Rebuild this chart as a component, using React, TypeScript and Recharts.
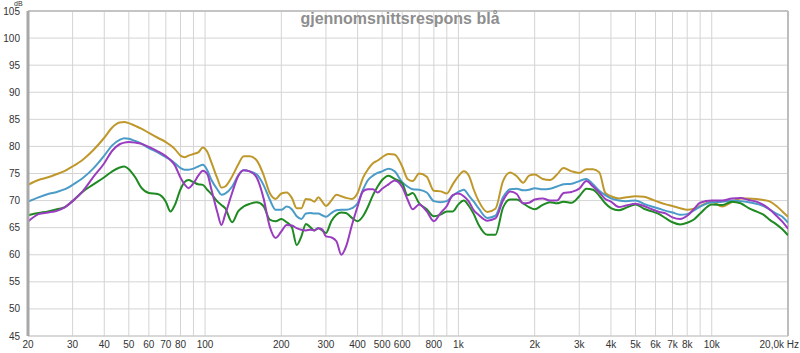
import React from "react";
import {
  LineChart,
  Line,
  XAxis,
  YAxis,
  CartesianGrid,
  ReferenceLine,
} from "recharts";

// frequency points (Hz) shared by all four curves
const freqs = [
  20, 22, 24, 26, 28, 30, 33, 36, 40, 43,
  46, 48, 50, 53, 56, 60, 65, 70, 73, 76,
  80, 83, 86, 90, 94, 98, 102, 106, 112, 116,
  120, 128, 135, 142, 150, 160, 170, 180, 190, 200,
  210, 220, 230, 240, 250, 260, 270, 280, 290, 300,
  315, 330, 345, 360, 380, 400, 420, 440, 460, 480,
  500, 530, 560, 600, 630, 660, 700, 750, 800, 850,
  900, 950, 1000, 1050, 1100, 1150, 1200, 1300, 1400, 1500,
  1600, 1700, 1800, 1900, 2000, 2150, 2300, 2450, 2600, 2800,
  3000, 3200, 3400, 3600, 3800, 4000, 4300, 4600, 5000, 5400,
  5800, 6200, 6600, 7000, 7500, 8000, 8500, 9000, 10000, 11000,
  12000, 13000, 14000, 15000, 16000, 17000, 18000, 19000, 20000,
];

const gold = [
  72.9, 73.8, 74.3, 74.9, 75.5, 76.3, 77.6, 79.2, 81.6, 83.5,
  84.4, 84.5, 84.3, 83.8, 83.3, 82.5, 81.6, 80.8, 80.2, 79.5,
  78.3, 78.0, 78.3, 78.6, 78.9, 79.8, 79.0, 77.0, 74.0, 72.4,
  72.6, 74.5, 76.6, 78.2, 78.2, 77.4, 74.8, 71.4, 70.3, 71.3,
  71.5, 70.5, 68.6, 68.6, 70.3, 70.2, 69.8, 70.6, 69.8, 69.0,
  70.0, 71.1, 70.8, 70.5, 70.3, 71.4, 74.2, 75.8, 76.9, 77.4,
  78.0, 78.6, 78.5, 76.3, 74.0, 73.6, 75.0, 74.4, 71.8, 71.7,
  71.3, 73.0, 74.5, 75.4, 74.6, 72.0, 70.0, 67.9, 68.5, 73.6,
  75.2, 74.5, 73.3, 74.6, 74.8, 74.0, 73.8, 74.8, 76.0, 75.4,
  75.1, 75.8, 75.8, 75.2, 71.4, 70.8, 70.4, 70.6, 70.8, 70.7,
  70.2, 69.7, 69.3, 69.0, 68.6, 68.3, 68.5, 69.0, 69.8, 68.9,
  69.7, 70.4, 70.4, 70.3, 70.1, 69.8, 69.0, 68.0, 67.0,
];

const blue = [
  69.8, 70.6, 71.2, 71.6, 72.1, 72.9, 74.2, 75.8, 78.3, 80.2,
  81.2, 81.5, 81.4, 81.0, 80.5, 79.7, 78.9, 78.0, 77.5, 76.9,
  76.0, 75.7, 75.7, 75.9, 76.3, 76.6, 75.6, 73.8, 72.0, 71.1,
  71.3, 72.6, 74.6, 75.6, 75.4, 74.8, 72.9, 70.2, 68.3, 68.3,
  68.9, 68.4, 67.1, 66.6, 67.6, 67.7, 67.6, 67.6, 67.3, 67.0,
  67.7, 68.2, 68.3, 68.3, 68.6, 69.5, 72.0, 73.8, 74.6, 75.1,
  75.4, 75.9, 75.4, 73.4, 72.6, 72.1, 72.0, 71.5, 69.9, 69.7,
  69.9, 70.9, 71.6, 72.0, 70.9, 69.8, 68.6, 66.8, 67.2, 70.6,
  72.1, 72.2, 71.9, 72.0, 72.3, 72.1, 72.2, 72.6, 73.0, 73.1,
  73.6, 74.0, 73.0, 71.8, 71.0, 70.4, 70.0, 69.9, 70.0, 69.4,
  68.9, 68.5, 68.1, 67.8, 67.4, 67.5, 68.2, 68.9, 69.7, 69.8,
  70.0, 69.9, 69.7, 69.4, 69.0, 68.3, 67.6, 67.0, 65.9,
];

const purple = [
  66.1, 67.5, 67.8, 68.1, 68.8, 69.9, 71.8, 74.2, 76.9, 79.2,
  80.4, 80.7, 80.8, 80.7, 80.5, 79.9, 79.1, 78.2, 77.5, 76.5,
  74.2, 73.0, 72.3, 73.2, 74.6, 75.5, 74.9, 72.0, 67.7, 65.5,
  67.4, 71.5, 74.5, 75.6, 75.4, 74.2, 70.5, 65.2, 63.1, 64.3,
  65.5, 65.4, 64.9, 64.6, 64.5, 64.6, 64.5, 64.9, 64.7, 63.4,
  63.2, 62.5, 60.0, 61.5, 65.5, 68.9, 71.7, 72.1, 72.1, 71.5,
  72.2, 73.0, 73.7, 72.5, 70.2, 68.4, 69.3, 68.0, 66.2, 67.7,
  69.0, 71.0, 71.3, 70.8, 69.8, 68.2, 67.4, 66.3, 66.7, 70.0,
  71.7, 71.2, 69.5, 69.6, 70.2, 70.4, 70.0, 70.0, 71.4, 71.6,
  72.2, 73.6, 72.6, 71.5, 70.3, 69.8, 68.8, 69.1, 69.4, 69.0,
  68.4, 67.9, 67.6, 66.9, 66.6, 67.2, 68.4, 69.6, 70.0, 70.0,
  70.4, 70.5, 70.1, 69.8, 69.2, 68.3, 67.2, 66.1, 64.8,
];

const green = [
  67.3, 67.7, 68.0, 68.4, 68.8, 69.9, 71.7, 72.9, 74.3, 75.4,
  76.1, 76.3, 75.8, 74.3, 72.4, 71.4, 71.2, 69.8, 68.0, 69.2,
  72.1, 73.4, 73.8, 73.4, 73.0, 72.9, 72.0, 71.2, 69.8, 69.2,
  68.6, 66.0, 68.0, 68.9, 69.4, 69.7, 69.0, 66.5, 66.2, 66.6,
  66.0, 65.1, 61.8, 63.4, 65.7, 65.1, 64.5, 64.9, 64.5, 64.0,
  66.2, 67.4, 67.8, 67.7, 66.8, 66.2, 67.1, 68.9, 71.0, 72.6,
  73.8, 74.6, 74.0, 73.2, 71.0, 71.4, 69.5, 68.4, 67.1, 67.4,
  68.0, 68.0, 69.3, 70.0, 69.0, 67.5, 65.6, 63.7, 63.7, 68.7,
  70.2, 70.2, 69.5, 68.8, 68.4, 69.2, 69.7, 69.5, 69.8, 69.6,
  70.8, 72.2, 72.0, 70.9, 69.5, 68.6, 68.2, 68.7, 69.3, 68.5,
  68.0, 67.5, 66.7, 66.0, 65.6, 65.9, 66.5, 67.6, 69.3, 69.2,
  69.8, 69.5, 68.6, 68.0, 67.4, 66.4, 65.6, 64.7, 63.6,
];

// grid lines on the log axis and the ones that carry a label
const xGrid = [
  20, 30, 40, 50, 60, 70, 80, 90,
  100, 200, 300, 400, 500, 600, 700, 800, 900,
  1000, 2000, 3000, 4000, 5000, 6000, 7000, 8000, 9000,
  10000, 20000,
];
const xLabels: Record<number, string> = {
  20: "20", 30: "30", 40: "40", 50: "50", 60: "60", 70: "70", 80: "80",
  100: "100", 200: "200", 300: "300", 400: "400", 500: "500", 600: "600", 800: "800",
  1000: "1k", 2000: "2k", 3000: "3k", 4000: "4k", 5000: "5k", 6000: "6k",
  7000: "7k", 8000: "8k", 10000: "10k", 20000: "20,0k Hz",
};
const yTicks = [45, 50, 55, 60, 65, 70, 75, 80, 85, 90, 95, 100, 105];

const data = freqs.map((f, i) => ({
  f,
  gold: gold[i],
  blue: blue[i],
  purple: purple[i],
  green: green[i],
}));

const font = "'Liberation Sans', Arial, sans-serif";

function XTick(props: any) {
  const { x, y, payload } = props;
  const label = xLabels[payload.value];
  if (!label) return null;
  const last = payload.value === 20000;
  return (
    <text
      x={last ? x + 11 : x}
      y={y + 4}
      textAnchor={last ? "end" : "middle"}
      fontSize={10}
      fontFamily={font}
      fill="#333"
    >
      {label}
    </text>
  );
}

export default function App() {
  return (
    <div style={{ position: "absolute", left: 0, top: 0, width: 800, height: 353, background: "#fff" }}>
      <LineChart
        width={800}
        height={353}
        data={data}
        margin={{ top: 11, right: 12, bottom: 0, left: 0 }}
      >
        <CartesianGrid stroke="#d4d4d4" strokeWidth={1} />
        <XAxis
          dataKey="f"
          type="number"
          scale="log"
          domain={[20, 20000]}
          ticks={xGrid}
          interval={0}
          height={17}
          tickLine={false}
          axisLine={{ stroke: "#c8c8c8" }}
          tick={<XTick />}
          allowDataOverflow
        />
        <YAxis
          type="number"
          domain={[45, 105]}
          ticks={yTicks}
          interval={0}
          width={28}
          tickLine={false}
          axisLine={{ stroke: "#a8a8a8", strokeWidth: 3 }}
          tick={{ fontSize: 10, fill: "#333", fontFamily: font }}
          tickMargin={2}
        />
        <ReferenceLine y={105} stroke="#c4c4c4" strokeWidth={2} />
        <ReferenceLine x={20000} stroke="#bdbdbd" strokeWidth={2} />
        <Line type="monotone" dataKey="gold" stroke="#bf982c" strokeWidth={2} dot={false} isAnimationActive={false} />
        <Line type="monotone" dataKey="blue" stroke="#4b9bc8" strokeWidth={2} dot={false} isAnimationActive={false} />
        <Line type="monotone" dataKey="green" stroke="#1f8a22" strokeWidth={2} dot={false} isAnimationActive={false} />
        <Line type="monotone" dataKey="purple" stroke="#9a3cc0" strokeWidth={2} dot={false} isAnimationActive={false} />
      </LineChart>
      <div
        style={{
          position: "absolute",
          left: 14,
          top: 0,
          fontSize: 7,
          lineHeight: "7px",
          fontFamily: font,
          color: "#333",
        }}
      >
        dB
      </div>
      <div
        style={{
          position: "absolute",
          left: 0,
          width: 800,
          top: 10,
          textAlign: "center",
          fontSize: 16,
          fontWeight: "bold",
          fontFamily: font,
          color: "#8e8e8e",
        }}
      >
        gjennomsnittsrespons blå
      </div>
    </div>
  );
}
